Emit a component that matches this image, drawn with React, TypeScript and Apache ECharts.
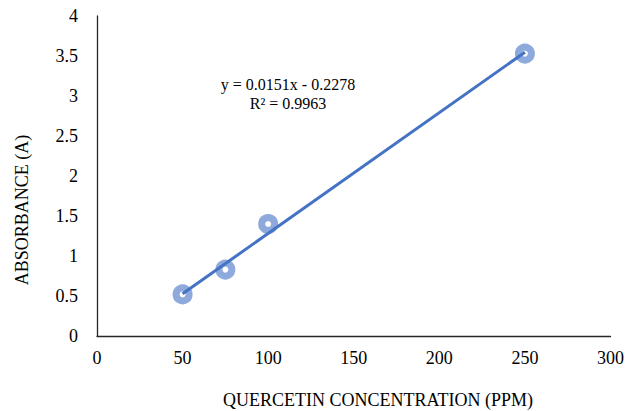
import React, { useEffect, useRef } from "react";
import * as echarts from "echarts";

const concentrations = [50, 75, 100, 250];
const absorbances = [0.52, 0.83, 1.4, 3.53];
const slope = 0.0151;
const intercept = -0.2278;
const rSquared = 0.9963;
const xTicks = { min: 0, max: 300, interval: 50 };
const yTicks = { min: 0, max: 4, interval: 0.5 };

const FONT = "Liberation Serif";

export default function App() {
  const ref = useRef<HTMLDivElement>(null);
  useEffect(() => {
    if (!ref.current) return;
    const chart = echarts.init(ref.current, undefined, { renderer: "svg" });
    const xStart = Math.min(...concentrations);
    const xEnd = Math.max(...concentrations);
    const trend = [
      [xStart, slope * xStart + intercept],
      [xEnd, slope * xEnd + intercept],
    ];
    chart.setOption({
      animation: false,
      backgroundColor: "#fff",
      grid: { left: 97, right: 16, top: 16, bottom: 75, containLabel: false },
      xAxis: {
        type: "value",
        min: xTicks.min,
        max: xTicks.max,
        interval: xTicks.interval,
        axisLine: { show: true, lineStyle: { color: "#262626", width: 1.3 } },
        axisTick: { show: false },
        splitLine: { show: false },
        axisLabel: { color: "#000", fontFamily: FONT, fontSize: 18, margin: 13 },
      },
      yAxis: {
        type: "value",
        min: yTicks.min,
        max: yTicks.max,
        interval: yTicks.interval,
        axisLine: { show: true, lineStyle: { color: "#262626", width: 1.3 } },
        axisTick: { show: false },
        splitLine: { show: false },
        axisLabel: { color: "#000", fontFamily: FONT, fontSize: 18, margin: 19 },
      },
      series: [
        {
          type: "scatter",
          data: concentrations.map((c, i) => [c, absorbances[i]]),
          symbol: "circle",
          symbolSize: 13,
          itemStyle: { color: "#ffffff", borderColor: "#8EA9DB", borderWidth: 7, opacity: 1 },
          z: 2,
        },
        {
          type: "line",
          data: trend,
          showSymbol: false,
          symbol: "none",
          lineStyle: { color: "#4472C4", width: 3 },
          z: 3,
        },
      ],
      graphic: [
        {
          type: "text",
          x: 288,
          y: 94,
          style: {
            text: `y = ${slope}x - ${Math.abs(intercept)}\nR² = ${rSquared}`,
            fontFamily: FONT,
            fontSize: 16,
            fill: "#000",
            align: "center",
            verticalAlign: "middle",
            lineHeight: 19,
          },
        },
        {
          type: "text",
          x: 22,
          y: 210,
          rotation: Math.PI / 2,
          style: {
            text: "ABSORBANCE (A)",
            fontFamily: FONT,
            fontSize: 18,
            fill: "#000",
            align: "center",
            verticalAlign: "middle",
          },
        },
        {
          type: "text",
          x: 378,
          y: 400,
          style: {
            text: "QUERCETIN CONCENTRATION (PPM)",
            fontFamily: FONT,
            fontSize: 18,
            fill: "#000",
            align: "center",
            verticalAlign: "middle",
          },
        },
      ],
    });
    return () => chart.dispose();
  }, []);
  return (
    <div
      ref={ref}
      style={{ position: "fixed", left: 0, top: 0, width: 627, height: 411, background: "#fff" }}
    />
  );
}
